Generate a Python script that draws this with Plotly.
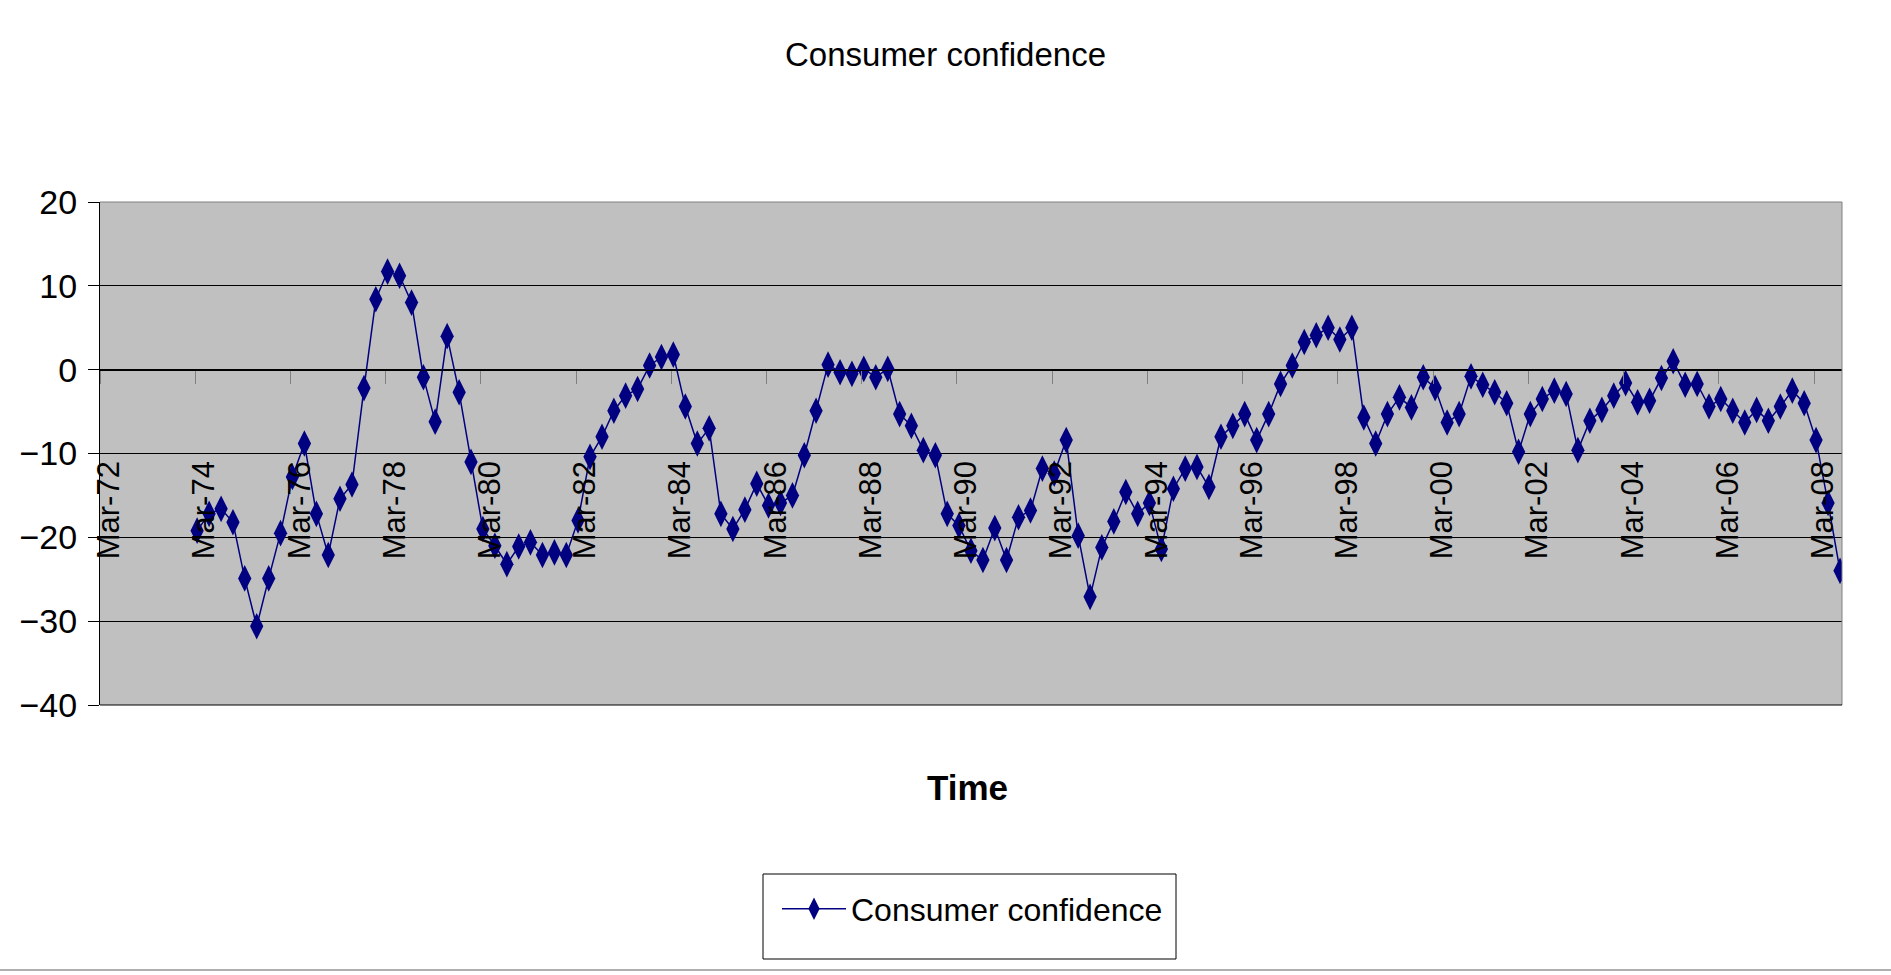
import pandas as pd
import plotly.graph_objects as go

# ---- data -------------------------------------------------------------
series_name = "Consumer confidence"
first_quarter = "1974-03-01"
confidence = [
    -19.2, -17.2, -16.6, -18.2, -24.9, -30.6, -24.9, -19.5, -12.8, -8.8,
    -17.2, -22.1, -15.4, -13.7, -2.2, 8.4, 11.7, 11.2, 8.0, -0.9,
    -6.2, 4.0, -2.7, -11.0, -19.0, -21.0, -23.2, -21.1, -20.6, -22.1,
    -21.8, -22.1, -18.0, -10.4, -8.0, -4.9, -3.1, -2.3, 0.5, 1.5,
    1.8, -4.4, -8.8, -7.0, -17.2, -19.0, -16.7, -13.6, -16.2, -15.9,
    -15.0, -10.2, -4.9, 0.6, -0.3, -0.5, 0.1, -0.9, 0.1, -5.3,
    -6.7, -9.6, -10.2, -17.2, -18.6, -21.6, -22.7, -18.9, -22.7, -17.6,
    -16.8, -11.8, -12.4, -8.4, -19.8, -27.1, -21.2, -18.1, -14.6, -17.2,
    -15.9, -21.4, -14.2, -11.8, -11.6, -14.0, -8.0, -6.7, -5.3, -8.4,
    -5.3, -1.7, 0.5, 3.3, 4.1, 5.0, 3.6, 5.0, -5.7, -8.8,
    -5.3, -3.3, -4.5, -0.9, -2.2, -6.3, -5.3, -0.8, -1.8, -2.7,
    -4.0, -9.8, -5.3, -3.5, -2.5, -2.9, -9.6, -6.1, -4.8, -3.1,
    -1.6, -3.9, -3.7, -1.0, 1.0, -1.8, -1.7, -4.4, -3.5, -4.9,
    -6.3, -4.8, -6.1, -4.4, -2.5, -4.0, -8.4, -15.9, -24.0,
]
quarters = pd.date_range(first_quarter, periods=len(confidence), freq="3MS")
tick_labels = ["Mar-72", "Mar-74", "Mar-76", "Mar-78", "Mar-80", "Mar-82",
               "Mar-84", "Mar-86", "Mar-88", "Mar-90", "Mar-92", "Mar-94",
               "Mar-96", "Mar-98", "Mar-00", "Mar-02", "Mar-04", "Mar-06",
               "Mar-08"]
tick_dates = pd.date_range("1972-03-01", periods=len(tick_labels), freq="24MS")
y_ticks = [20, 10, 0, -10, -20, -30, -40]

# ---- styling ----------------------------------------------------------
NAVY = "#000080"
FONT = "Liberation Sans Narrow, Arial Narrow, Liberation Sans, Arial, sans-serif"
W, H = 1891, 975
L, R, T, B = 100, 49, 202, 270
plot_h = H - T - B
plot_w = W - L - R


def py(px):  # pixel row -> paper y
    return (H - B - px) / plot_h


def pxx(px):  # pixel column -> paper x
    return (px - L) / plot_w


fig = go.Figure()
fig.add_trace(go.Scatter(
    x=quarters + pd.Timedelta(days=15),
    y=confidence,
    mode="lines+markers",
    name=series_name,
    line=dict(color=NAVY, width=1.5),
    marker=dict(symbol="diamond-tall", size=19, color=NAVY),
))

fig.update_layout(
    width=W, height=H,
    margin=dict(l=L, r=R, t=T, b=B, pad=0),
    paper_bgcolor="white",
    plot_bgcolor="#C0C0C0",
    font=dict(family=FONT, color="black", size=34),
    title=dict(text="Consumer confidence", x=0.5, xref="container",
               xanchor="center", y=1 - 54 / H, yref="container",
               yanchor="middle", font=dict(size=33, family=FONT, color="black")),
    showlegend=True,
    legend=dict(x=pxx(777), y=py(909), xanchor="left", yanchor="middle",
                bgcolor="rgba(0,0,0,0)", borderwidth=0, itemwidth=64,
                font=dict(size=32, family=FONT, color="black")),
    xaxis=dict(
        type="date",
        range=["1972-03-01", "2008-10-01"],
        anchor="free", position=2 / 3,
        showgrid=False, zeroline=False,
        showline=True, linecolor="black", linewidth=1,
        ticks="outside", ticklen=13, tickcolor="#808080", tickwidth=1,
        tickvals=tick_dates, ticktext=tick_labels,
        tickangle=-90, ticklabelstandoff=65, ticklabelshift=9,
        tickfont=dict(size=31, family=FONT, color="black"),
    ),
    yaxis=dict(
        range=[-40, 20], tickvals=y_ticks,
        showgrid=True, gridcolor="black", gridwidth=1,
        zeroline=False, showline=True, linecolor="black", linewidth=1,
        ticks="outside", ticklen=11, tickcolor="black",
        ticklabelstandoff=4,
        tickfont=dict(size=34, family=FONT, color="black"),
    ),
    shapes=[
        dict(type="line", xref="paper", yref="paper", x0=0, x1=1, y0=1, y1=1,
             line=dict(color="#808080", width=1)),
        dict(type="line", xref="paper", yref="paper", x0=1, x1=1, y0=0, y1=1,
             line=dict(color="#808080", width=1)),
        dict(type="line", xref="paper", yref="paper", x0=0, x1=1, y0=0, y1=0,
             line=dict(color="black", width=1)),
        dict(type="line", xref="paper", yref="paper", x0=pxx(0), x1=pxx(W),
             y0=py(970), y1=py(970), line=dict(color="#606060", width=1)),
        dict(type="rect", xref="paper", yref="paper",
             x0=pxx(763), x1=pxx(1176), y0=py(959), y1=py(874),
             line=dict(color="black", width=1), fillcolor="rgba(0,0,0,0)"),
    ],
    annotations=[
        dict(text="<b>Time</b>", xref="paper", yref="paper",
             x=pxx(967), y=py(787), xanchor="center", yanchor="middle",
             showarrow=False, font=dict(size=35, family=FONT, color="black")),
    ],
)

fig.write_html("out.html", config={"displayModeBar": False},
               post_script="document.body.style.margin='0';")
